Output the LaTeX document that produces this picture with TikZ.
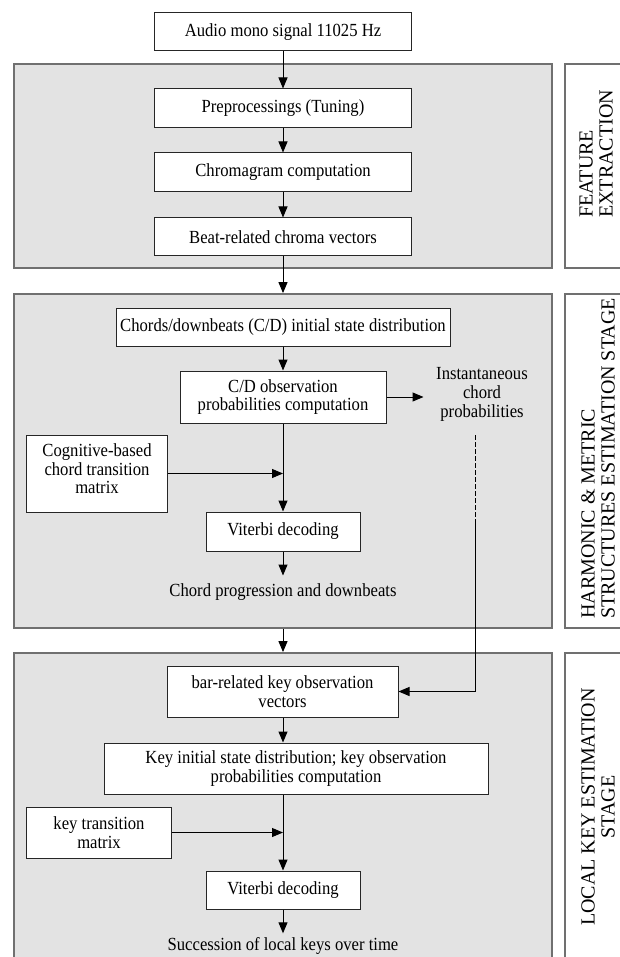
\documentclass[tikz,border=0pt]{standalone}
\usepackage{fontspec}
\setmainfont{Liberation Serif}[FakeStretch=0.9]
\newfontfamily\labfont{Liberation Serif}
\usetikzlibrary{arrows.meta}
\definecolor{panelfill}{RGB}{227,227,227}
\definecolor{panelline}{RGB}{112,112,112}
\begin{document}
\begin{tikzpicture}[x=1pt,y=-1pt,
  panel/.style={draw=panelline, line width=1.8pt, fill=panelfill, rectangle, inner sep=0pt},
  labbox/.style={draw=panelline, line width=1.8pt, fill=white, rectangle, inner sep=0pt},
  box/.style={draw=black!85, line width=1pt, fill=white, rectangle, inner sep=0pt, align=center,
    font=\fontsize{18.5}{18.5}\selectfont},
  txt/.style={inner sep=0pt, align=center, font=\fontsize{18.5}{19}\selectfont},
  labtxt/.style={inner sep=0pt, rotate=90, font=\labfont\fontsize{20}{20}\selectfont},
  arr/.style={line width=1pt, -{Triangle[length=11pt,width=9pt]}},
  ln/.style={line width=1pt}
]
\useasboundingbox (0,0) rectangle (620,957);
% panels
\node[panel, minimum width=538, minimum height=204] (p1) at (283,166) {};
\node[panel, minimum width=538, minimum height=334] (p2) at (283,461) {};
\node[panel, minimum width=538, minimum height=322] (p3) at (283,814) {};
% label boxes
\node[labbox, minimum width=75, minimum height=204] (l1) at (602.5,166) {};
\node[labbox, minimum width=75, minimum height=334] (l2) at (602.5,461) {};
\node[labbox, minimum width=75, minimum height=322] (l3) at (602.5,814) {};
\node[labtxt, anchor=west, align=left] (t1) at (596,218) {FEATURE\\EXTRACTION};
\node[labtxt, anchor=west, align=left] (t2) at (598,619) {HARMONIC \& METRIC\\STRUCTURES ESTIMATION STAGE};
\node[labtxt, align=center] (t3) at (598,807) {LOCAL KEY ESTIMATION\\STAGE};
% feature extraction
\node[box, minimum width=257, minimum height=38] (audio) at (283,32) {Audio mono signal 11025 Hz};
\node[box, minimum width=257, minimum height=39] (pre) at (283,108.5) {Preprocessings (Tuning)};
\node[box, minimum width=257, minimum height=39] (chroma) at (283,172.5) {Chromagram computation};
\node[box, minimum width=257, minimum height=38] (beat) at (283,237) {Beat-related chroma vectors};
% harmonic stage
\node[box, minimum width=334, minimum height=38] (chords) at (283,327) {Chords/downbeats (C/D) initial state distribution};
\node[box, minimum width=206, minimum height=52] (cd) at (283,397) {C/D observation\\probabilities computation};
\node[txt] (inst) at (482,394) {Instantaneous\\chord\\probabilities};
\node[box, minimum width=141, minimum height=77] (cog) at (97,473.5) {Cognitive-based\\chord transition\\matrix\\[-9pt]};
\node[box, minimum width=154, minimum height=39] (vit1) at (283,531.5) {Viterbi decoding};
\node[txt] (prog) at (283,592) {Chord progression and downbeats};
% local key stage
\node[box, minimum width=231, minimum height=51] (bar) at (282.5,691.5) {bar-related key observation\\vectors};
\node[box, minimum width=384, minimum height=51] (key) at (296,768.5) {Key initial state distribution; key observation\\probabilities computation};
\node[box, minimum width=145, minimum height=51] (keytr) at (99,832.5) {key transition\\matrix};
\node[box, minimum width=154, minimum height=38] (vit2) at (283,890) {Viterbi decoding};
\node[txt] (succ) at (283,946) {Succession of local keys over time};
% coordinates
\coordinate (j1) at (cd.south |- cog.east);
\coordinate (j2) at (key.south -| cd.south);
\coordinate (j3) at (j2 |- keytr.east);
\coordinate (d0) at (475,435);
\coordinate (d1) at (475,522);
\coordinate (d2) at (475,691.5);
% connectors
\draw[arr] (audio) -- (pre);
\draw[arr] (pre) -- (chroma);
\draw[arr] (chroma) -- (beat);
\draw[arr] (beat.south) -- (beat.south |- p2.north);
\draw[arr] (chords) -- (chords.south |- cd.north);
\draw[ln] (cd.south) -- (j1);
\draw[arr] (j1) -- (vit1.north -| j1);
\draw[arr] (cog.east) -- (j1);
\draw[arr] (cd.east) -- ++(37,0);
\draw[arr] (vit1.south) -- ++(0,24);
\draw[ln, dash pattern=on 5pt off 2pt] (d0) -- (d1);
\draw[ln] (d1) -- (d2);
\draw[arr] (d2) -- (bar.east);
\draw[arr] (p2.south -| beat.south) -- (p3.north -| beat.south);
\draw[arr] (bar.south -| j2) -- (key.north -| j2);
\draw[ln] (j2) -- (j3);
\draw[arr] (j3) -- (vit2.north -| j3);
\draw[arr] (keytr.east) -- (j3);
\draw[arr, shorten >=4pt] (vit2.south) -- (succ.north -| vit2.south);
\end{tikzpicture}
\end{document}
